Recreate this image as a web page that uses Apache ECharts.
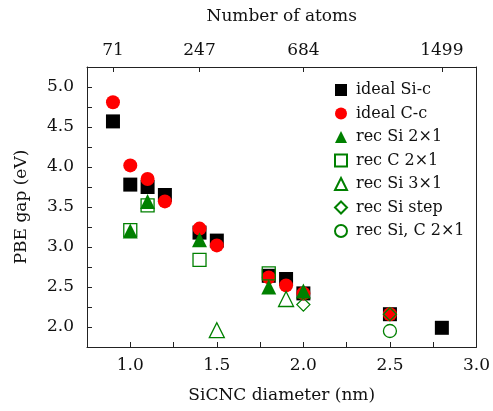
<!DOCTYPE html>
<html>
<head>
<meta charset="utf-8">
<script src="https://cdn.jsdelivr.net/npm/echarts@6/dist/echarts.min.js"></script>
<style>
  html, body { margin: 0; padding: 0; background: #fff; }
  #chart { width: 493px; height: 411px; }
</style>
</head>
<body>
<div id="chart"></div>
<script>
// data: [diameter nm, PBE gap eV]
var idealSi = [[0.9, 4.57], [1.0, 3.78], [1.1, 3.75], [1.2, 3.65], [1.4, 3.18], [1.5, 3.08],
               [1.8, 2.64], [1.9, 2.60], [2.0, 2.42], [2.5, 2.16], [2.8, 1.99]]
var idealC = [[0.9, 4.81], [1.0, 4.02], [1.1, 3.85], [1.2, 3.57], [1.4, 3.23], [1.5, 3.02],
              [1.8, 2.62], [1.9, 2.52], [2.0, 2.42], [2.5, 2.16]]
var recSi2x1 = [[1.0, 3.20], [1.1, 3.57], [1.4, 3.09], [1.8, 2.50], [2.0, 2.45]]
var recC2x1 = [[1.0, 3.21], [1.1, 3.52], [1.4, 2.84], [1.8, 2.67]]
var recSi3x1 = [[1.5, 1.96], [1.9, 2.35]]
var recSiStep = [[2.0, 2.28], [2.5, 2.16]]
var recSiC2x1 = [[2.5, 1.95]]

// top axis: number of atoms at given diameters
var atomPos = [0.9, 1.4, 2.0, 2.8]
var atomLabels = ['71', '247', '684', '1499']

var FONT = 'DejaVu Serif'
var GREEN = '#008000'
var RED = '#ff0000'

function halfLabel(v) {
    // only label multiples of 0.5
    if (Math.abs(v * 2 - Math.round(v * 2)) < 1e-6) return v.toFixed(1)
    return ''
}

var chart = echarts.init(document.getElementById('chart'))

function filled(name, data, symbol, color, size) {
    return {
        name: name, type: 'scatter', data: data, symbol: symbol, symbolSize: size,
        itemStyle: { color: color, opacity: 1 },
        emphasis: { disabled: true }
    }
}
function open(name, data, symbol, size) {
    return {
        name: name, type: 'scatter', data: data, symbol: symbol, symbolSize: size,
        itemStyle: { color: 'rgba(0,0,0,0)', borderColor: GREEN, borderWidth: 1.3, opacity: 1 },
        emphasis: { disabled: true }
    }
}

var option = {
    animation: false,
    grid: { left: 87, right: 16, top: 67, bottom: 64 },
    textStyle: { fontFamily: FONT },
    legend: {
        orient: 'vertical',
        left: 329, top: 77,
        itemWidth: 12, itemHeight: 12, itemGap: 7.5,
        textStyle: { fontFamily: FONT, fontSize: 16, color: '#111', padding: [0, 0, 0, 4] },
        data: ['ideal Si-c', 'ideal C-c', 'rec Si 2×1', 'rec C 2×1', 'rec Si 3×1', 'rec Si step', 'rec Si, C 2×1']
    },
    xAxis: [
        {
            type: 'value', position: 'bottom', min: 0.75, max: 3.0, interval: 0.25,
            name: 'SiCNC diameter (nm)', nameLocation: 'middle', nameGap: 40,
            nameTextStyle: { fontFamily: FONT, fontSize: 17, color: '#111' },
            axisLine: { lineStyle: { color: '#222', width: 1 } },
            axisTick: { inside: true, length: 5, lineStyle: { color: '#222' } },
            axisLabel: { formatter: halfLabel, fontFamily: FONT, fontSize: 17, color: '#111', margin: 10,
                         showMinLabel: true, showMaxLabel: true },
            splitLine: { show: false }
        },
        {
            type: 'value', position: 'top', min: 0.75, max: 3.0,
            name: 'Number of atoms', nameLocation: 'middle', nameGap: 42,
            nameTextStyle: { fontFamily: FONT, fontSize: 17, color: '#111' },
            axisLine: { lineStyle: { color: '#222', width: 1 } },
            axisTick: { inside: true, length: 5, customValues: atomPos, lineStyle: { color: '#222' } },
            axisLabel: {
                customValues: atomPos, fontFamily: FONT, fontSize: 17, color: '#111', margin: 8,
                formatter: function (v) {
                    for (var i = 0; i < atomPos.length; i++) if (Math.abs(atomPos[i] - v) < 1e-6) return atomLabels[i]
                    return ''
                }
            },
            splitLine: { show: false }
        }
    ],
    yAxis: [
        {
            type: 'value', position: 'left', min: 1.75, max: 5.25, interval: 0.25,
            name: 'PBE gap (eV)', nameLocation: 'middle', nameGap: 57, nameRotate: 90,
            nameTextStyle: { fontFamily: FONT, fontSize: 17, color: '#111' },
            axisLine: { show: true, lineStyle: { color: '#222', width: 1 } },
            axisTick: { show: true, inside: true, length: 5, lineStyle: { color: '#222' } },
            axisLabel: { formatter: halfLabel, fontFamily: FONT, fontSize: 17, color: '#111', margin: 13,
                         showMinLabel: true, showMaxLabel: true },
            splitLine: { show: false }
        },
        {
            type: 'value', position: 'right', min: 1.75, max: 5.25,
            axisLine: { show: true, lineStyle: { color: '#222', width: 1 } },
            axisTick: { show: false }, axisLabel: { show: false }, splitLine: { show: false }
        }
    ],
    series: [
        filled('ideal Si-c', idealSi, 'rect', '#000', 14),
        filled('ideal C-c', idealC, 'circle', RED, 14),
        filled('rec Si 2×1', recSi2x1, 'triangle', GREEN, 15),
        open('rec C 2×1', recC2x1, 'rect', 13),
        open('rec Si 3×1', recSi3x1, 'triangle', 15),
        open('rec Si step', recSiStep, 'diamond', 13),
        open('rec Si, C 2×1', recSiC2x1, 'circle', 13)
    ]
}
chart.setOption(option)
</script>
</body>
</html>
